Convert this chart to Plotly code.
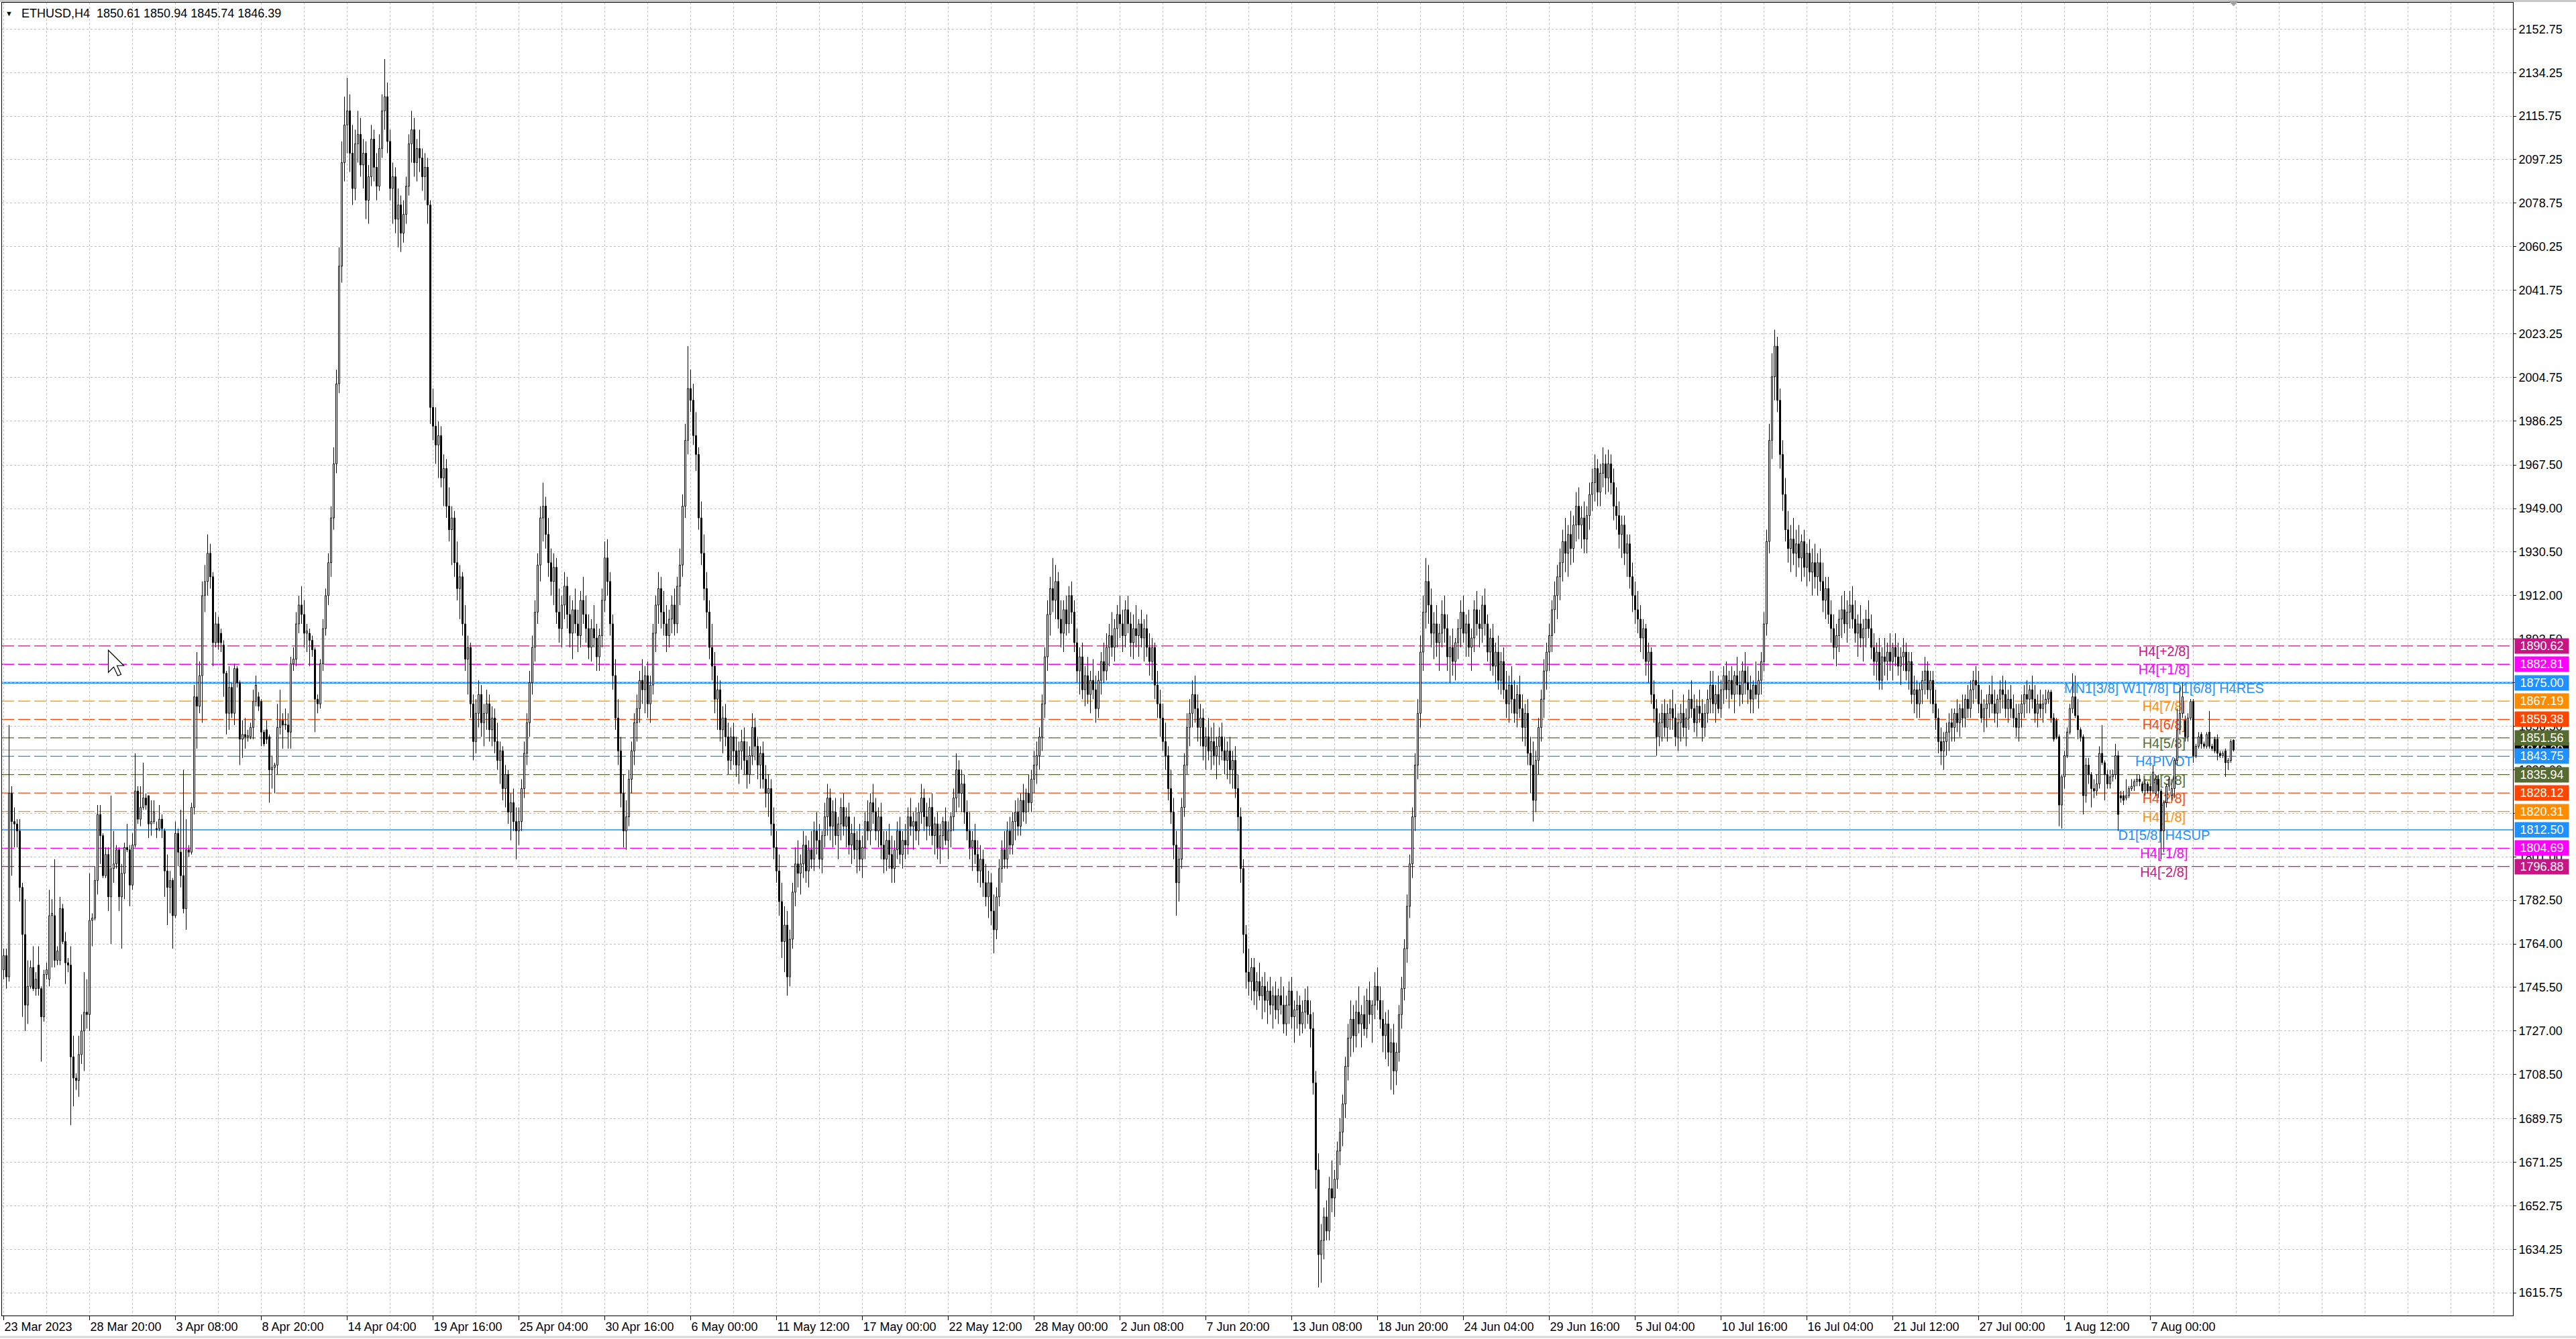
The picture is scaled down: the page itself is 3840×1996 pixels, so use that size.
import plotly.graph_objects as go

# ---------------- data ----------------
opens = [
1753,1759,1750,1828,1816,1815,1812,1788,1768,1738,1746,1754,1745,1755,1745,1733,
1751,1749,1776,1776,1757,1757,1779,1765,1756,1755,1716,1707,1706,1717,1727,1735,
1734,1774,1775,1791,1819,1810,1793,1802,1784,1796,1798,1804,1784,1794,1805,1804,
1789,1806,1829,1817,1822,1826,1827,1815,1816,1813,1813,1817,1812,1795,1788,1791,
1776,1811,1803,1793,1779,1804,1803,1822,1869,1865,1878,1912,1918,1930,1920,1892,
1900,1896,1891,1879,1862,1873,1862,1881,1875,1851,1853,1852,1852,1856,1867,1869,
1867,1854,1855,1852,1838,1839,1840,1856,1859,1857,1857,1854,1883,1885,1900,1908,
1904,1896,1896,1893,1889,1868,1866,1883,1898,1912,1926,1945,1968,2002,2052,2096,
2112,2118,2100,2085,2104,2108,2095,2100,2080,2090,2106,2094,2086,2102,2118,2124,
2105,2085,2090,2072,2078,2066,2074,2086,2104,2110,2096,2102,2098,2090,2094,2078,
1992,1984,1976,1980,1962,1966,1950,1940,1945,1926,1915,1920,1900,1885,1890,1866,
1850,1862,1870,1858,1862,1866,1855,1860,1850,1842,1846,1830,1836,1820,1824,1816,
1812,1816,1830,1845,1858,1875,1890,1905,1925,1945,1950,1938,1926,1918,1924,1905,
1898,1908,1916,1904,1896,1906,1900,1895,1910,1904,1898,1890,1898,1894,1886,1895,
1910,1928,1918,1900,1878,1860,1846,1828,1812,1818,1834,1846,1858,1864,1876,1872,
1878,1866,1874,1896,1908,1915,1905,1900,1895,1902,1908,1900,1916,1925,1950,1978,
2000,1995,1980,1972,1945,1930,1915,1905,1890,1882,1868,1872,1855,1860,1852,1842,
1852,1846,1840,1846,1850,1842,1836,1844,1856,1848,1840,1845,1834,1828,1830,1815,
1805,1795,1782,1765,1772,1750,1766,1786,1798,1794,1798,1806,1795,1804,1800,1812,
1808,1800,1810,1818,1826,1814,1820,1810,1815,1822,1814,1818,1806,1811,1804,1808,
1800,1805,1816,1812,1824,1820,1812,1818,1806,1800,1808,1802,1796,1804,1812,1802,
1808,1806,1818,1814,1816,1812,1820,1826,1818,1814,1822,1810,1815,1805,1810,1816,
1808,1812,1818,1826,1838,1828,1832,1820,1812,1805,1808,1802,1795,1800,1790,1784,
1790,1778,1770,1784,1796,1804,1800,1812,1806,1816,1820,1814,1825,1820,1828,1824,
1834,1840,1844,1852,1866,1886,1904,1915,1910,1918,1902,1896,1906,1900,1912,1905,
1892,1880,1886,1872,1878,1870,1876,1872,1864,1876,1884,1880,1890,1895,1890,1898,
1904,1900,1895,1906,1900,1892,1898,1895,1900,1894,1898,1890,1884,1890,1874,1866,
1860,1850,1844,1830,1820,1806,1790,1800,1822,1840,1856,1862,1870,1864,1856,1860,
1848,1852,1846,1850,1844,1848,1852,1846,1842,1846,1838,1842,1830,1818,1796,1768,
1752,1748,1754,1744,1748,1742,1746,1740,1744,1738,1742,1736,1742,1738,1730,1738,
1744,1733,1736,1738,1730,1735,1740,1734,1728,1705,1668,1632,1638,1648,1642,1660,
1656,1664,1676,1684,1696,1712,1724,1732,1725,1735,1730,1734,1728,1740,1734,1738,
1746,1740,1732,1725,1730,1718,1722,1710,1718,1734,1745,1762,1780,1798,1818,1840,
1862,1888,1905,1918,1908,1896,1900,1892,1896,1904,1898,1886,1890,1884,1892,1898,
1905,1896,1900,1890,1894,1906,1900,1898,1908,1900,1888,1894,1882,1888,1876,1884,
1872,1866,1874,1868,1862,1870,1864,1856,1862,1845,1840,1825,1842,1856,1868,1880,
1888,1895,1906,1912,1920,1926,1935,1930,1938,1932,1942,1950,1942,1945,1936,1946,
1955,1960,1966,1956,1964,1968,1962,1968,1960,1950,1946,1938,1942,1930,1934,1920,
1912,1906,1902,1894,1898,1884,1888,1870,1864,1852,1858,1862,1856,1862,1864,1860,
1852,1858,1862,1856,1860,1868,1864,1858,1865,1862,1856,1862,1868,1874,1866,1870,
1864,1872,1878,1872,1876,1870,1878,1874,1870,1880,1875,1872,1868,1874,1870,1876,
1884,1900,1935,1978,2005,2018,1995,1972,1955,1940,1932,1936,1930,1934,1928,1935,
1924,1930,1922,1926,1920,1926,1918,1910,1915,1904,1898,1890,1895,1902,1906,1900,
1905,1908,1902,1896,1900,1894,1898,1902,1898,1890,1884,1888,1876,1886,1884,1888,
1884,1890,1886,1882,1886,1888,1880,1884,1870,1872,1866,1872,1876,1880,1872,1876,
1866,1860,1850,1846,1850,1854,1858,1856,1862,1858,1864,1860,1868,1864,1872,1876,
1874,1866,1860,1864,1866,1870,1866,1862,1868,1872,1870,1864,1868,1864,1860,1856,
1862,1866,1870,1868,1872,1868,1862,1866,1864,1866,1868,1871,1860,1859,1852,1823,
1835,1844,1854,1864,1869,1861,1855,1852,1827,1840,1836,1830,1829,1832,1845,1841,
1836,1832,1835,1836,1844,1827,1827,1826,1827,1830,1831,1833,1834,1832,1829,1832,
1831,1829,1828,1834,1829,1812,1824,1831,1827,1830,1842,1855,1862,1859,1852,1860,
1867,1844,1848,1853,1849,1848,1854,1848,1851,1851,1845,1844,1846,1841,1842,1850.61,
]

highs = [
1762,1762,1857,1831,1822,1817,1817,1790,1783,1757,1757,1763,1752,1763,1746,1753,
1756,1787,1783,1800,1763,1784,1781,1769,1758,1763,1725,1709,1725,1734,1752,1749,
1794,1777,1797,1823,1823,1811,1805,1805,1827,1812,1806,1805,1798,1807,1815,1806,
1811,1845,1831,1831,1841,1828,1827,1825,1825,1816,1823,1819,1813,1802,1795,1792,
1816,1813,1821,1838,1817,1806,1824,1874,1888,1884,1918,1925,1938,1934,1922,1905,
1903,1898,1893,1880,1882,1875,1883,1882,1876,1859,1860,1855,1858,1872,1878,1871,
1868,1855,1859,1853,1844,1841,1866,1872,1862,1864,1862,1886,1890,1905,1912,1916,
1910,1900,1898,1895,1890,1870,1885,1902,1915,1930,1950,1975,2008,2060,2105,2124,
2132,2125,2112,2110,2118,2115,2106,2105,2095,2112,2110,2100,2108,2125,2140,2130,
2110,2096,2094,2085,2082,2080,2090,2108,2118,2115,2106,2110,2102,2100,2098,2080,
2000,1992,1986,1984,1972,1970,1958,1950,1948,1935,1925,1922,1908,1895,1892,1870,
1868,1876,1874,1866,1872,1870,1865,1864,1858,1850,1848,1840,1838,1828,1830,1822,
1822,1834,1850,1862,1880,1895,1910,1930,1950,1960,1954,1945,1932,1930,1928,1915,
1912,1922,1920,1912,1910,1915,1906,1914,1920,1912,1904,1902,1908,1900,1898,1915,
1935,1936,1922,1904,1885,1868,1852,1836,1825,1838,1850,1862,1870,1880,1885,1882,
1884,1878,1900,1912,1922,1920,1914,1908,1906,1912,1915,1920,1932,1955,1985,2018,
2008,2002,1990,1975,1952,1938,1922,1910,1900,1888,1878,1876,1865,1866,1858,1856,
1858,1852,1850,1855,1856,1850,1848,1862,1860,1852,1848,1850,1840,1836,1834,1822,
1812,1802,1790,1780,1778,1770,1790,1805,1808,1802,1812,1810,1808,1812,1816,1820,
1815,1812,1824,1832,1830,1825,1826,1818,1826,1828,1822,1824,1815,1818,1812,1815,
1810,1820,1825,1828,1832,1826,1822,1824,1812,1812,1815,1810,1808,1816,1818,1812,
1815,1822,1826,1820,1822,1824,1832,1830,1824,1826,1828,1818,1820,1815,1818,1822,
1816,1820,1830,1845,1842,1838,1836,1825,1820,1812,1815,1808,1806,1804,1798,1795,
1794,1785,1788,1800,1808,1812,1816,1818,1820,1825,1826,1828,1832,1830,1836,1838,
1846,1850,1856,1870,1890,1910,1920,1928,1925,1922,1910,1910,1912,1916,1918,1910,
1898,1890,1892,1882,1886,1880,1885,1878,1880,1888,1892,1896,1900,1905,1902,1908,
1912,1906,1910,1912,1905,1904,1908,1902,1906,1902,1904,1896,1894,1892,1880,1872,
1866,1858,1848,1838,1826,1812,1805,1826,1845,1862,1868,1876,1878,1870,1866,1864,
1856,1860,1856,1858,1852,1856,1858,1852,1850,1852,1846,1848,1836,1822,1800,1772,
1762,1758,1758,1752,1756,1750,1752,1748,1750,1746,1748,1745,1750,1746,1742,1748,
1750,1740,1744,1742,1740,1745,1746,1740,1735,1710,1675,1645,1652,1655,1665,1672,
1668,1680,1690,1700,1716,1730,1740,1738,1740,1746,1738,1742,1745,1748,1740,1752,
1754,1746,1740,1735,1736,1728,1730,1722,1738,1750,1766,1785,1802,1822,1845,1868,
1895,1912,1928,1925,1915,1905,1908,1900,1910,1912,1904,1895,1898,1894,1902,1910,
1912,1904,1906,1898,1910,1914,1906,1912,1915,1904,1898,1900,1892,1895,1888,1890,
1880,1878,1882,1876,1874,1878,1870,1866,1868,1852,1850,1846,1860,1872,1885,1892,
1900,1910,1918,1925,1932,1940,1945,1942,1948,1946,1956,1958,1950,1952,1950,1960,
1966,1972,1970,1968,1975,1972,1974,1972,1966,1958,1952,1946,1946,1938,1938,1926,
1918,1914,1908,1902,1900,1892,1890,1876,1868,1862,1866,1868,1866,1868,1872,1866,
1862,1866,1870,1864,1872,1876,1870,1868,1872,1868,1866,1872,1880,1880,1874,1878,
1876,1882,1884,1880,1882,1880,1886,1880,1884,1888,1882,1878,1876,1884,1880,1888,
1905,1940,1985,2015,2025,2022,2000,1978,1962,1948,1942,1945,1940,1942,1938,1940,
1934,1936,1932,1934,1930,1932,1926,1920,1920,1910,1904,1900,1906,1912,1914,1910,
1914,1916,1910,1904,1908,1902,1906,1910,1904,1896,1892,1894,1890,1894,1892,1896,
1892,1896,1892,1890,1894,1892,1888,1888,1878,1876,1875,1880,1886,1884,1880,1880,
1872,1864,1856,1854,1858,1862,1864,1864,1868,1866,1870,1870,1874,1876,1880,1882,
1880,1872,1868,1870,1874,1878,1872,1870,1876,1878,1876,1872,1874,1870,1866,1866,
1870,1874,1876,1874,1878,1874,1870,1872,1870,1872,1872,1872,1862,1860,1853,1836,
1846,1856,1866,1879,1878,1868,1856,1853,1843,1843,1837,1834,1836,1848,1857,1842,
1838,1838,1838,1849,1846,1829,1829,1834,1831,1834,1834,1836,1836,1833,1834,1833,
1832,1840,1836,1836,1830,1825,1832,1835,1834,1843,1864,1873,1875,1861,1862,1868,
1868,1849,1854,1854,1850,1854,1863,1849,1852,1853,1846,1846,1847,1843,1851,1850.94,
]

lows = [
1749,1745,1748,1793,1805,1805,1782,1733,1727,1730,1745,1744,1742,1742,1714,1731,
1749,1746,1754,1754,1755,1755,1764,1747,1752,1687,1695,1702,1699,1713,1710,1728,
1727,1763,1774,1785,1798,1792,1792,1778,1764,1790,1796,1778,1762,1783,1803,1780,
1787,1805,1815,1814,1821,1821,1809,1810,1815,1809,1812,1809,1784,1772,1777,1762,
1775,1797,1788,1777,1770,1801,1802,1819,1847,1862,1858,1905,1912,1915,1882,1890,
1889,1888,1869,1853,1855,1860,1857,1873,1840,1843,1847,1850,1851,1851,1865,1863,
1848,1848,1849,1824,1830,1828,1836,1853,1847,1855,1847,1847,1880,1882,1896,1900,
1890,1888,1882,1886,1854,1862,1864,1880,1895,1908,1920,1940,1964,1998,2045,2088,
2100,2092,2078,2080,2096,2090,2085,2072,2070,2086,2088,2080,2084,2098,2110,2100,
2080,2070,2066,2060,2058,2062,2070,2082,2096,2090,2088,2092,2084,2080,2070,1985,
1978,1968,1962,1958,1950,1945,1935,1925,1920,1910,1902,1895,1880,1870,1860,1842,
1845,1856,1852,1848,1855,1850,1848,1845,1838,1832,1825,1822,1815,1808,1812,1800,
1806,1812,1826,1840,1852,1870,1884,1900,1918,1935,1932,1920,1912,1908,1900,1892,
1890,1902,1898,1890,1885,1896,1888,1890,1900,1892,1885,1884,1890,1880,1880,1890,
1905,1912,1895,1872,1855,1840,1822,1805,1804,1814,1828,1840,1850,1858,1866,1862,
1860,1858,1870,1888,1900,1898,1895,1888,1890,1896,1895,1896,1908,1920,1945,1972,
1990,1976,1965,1940,1925,1910,1898,1885,1876,1862,1855,1850,1845,1848,1836,1838,
1840,1835,1832,1838,1836,1830,1832,1840,1842,1834,1830,1830,1822,1818,1810,1800,
1790,1776,1758,1752,1742,1746,1762,1780,1788,1785,1792,1790,1788,1796,1795,1802,
1796,1794,1805,1810,1808,1805,1806,1800,1808,1810,1805,1802,1798,1800,1794,1795,
1792,1800,1808,1806,1815,1808,1805,1800,1794,1795,1796,1790,1790,1800,1798,1796,
1800,1802,1810,1804,1808,1806,1815,1812,1808,1810,1806,1802,1800,1798,1804,1806,
1800,1805,1812,1820,1822,1820,1815,1808,1800,1795,1798,1790,1788,1784,1780,1775,
1772,1760,1766,1780,1790,1796,1796,1802,1802,1808,1810,1810,1816,1815,1820,1820,
1828,1832,1838,1846,1860,1880,1895,1905,1902,1898,1890,1888,1895,1896,1900,1888,
1875,1870,1868,1865,1866,1862,1868,1858,1860,1870,1875,1876,1882,1886,1884,1890,
1894,1888,1890,1896,1886,1885,1890,1886,1890,1884,1886,1878,1876,1868,1860,1852,
1846,1838,1825,1815,1800,1776,1782,1796,1818,1836,1848,1856,1858,1850,1848,1842,
1838,1842,1838,1840,1834,1840,1842,1836,1834,1832,1830,1826,1812,1790,1760,1745,
1742,1740,1738,1736,1740,1732,1735,1730,1734,1728,1732,1730,1734,1726,1725,1730,
1728,1722,1728,1725,1726,1728,1730,1720,1700,1660,1618,1620,1630,1638,1638,1650,
1648,1660,1670,1678,1690,1706,1716,1718,1720,1726,1720,1725,1724,1730,1722,1732,
1736,1728,1718,1715,1712,1702,1700,1704,1714,1728,1740,1756,1775,1792,1812,1834,
1856,1880,1898,1900,1890,1885,1886,1880,1890,1892,1880,1875,1878,1876,1885,1890,
1892,1886,1886,1880,1888,1895,1890,1892,1895,1884,1880,1878,1875,1872,1870,1868,
1860,1858,1862,1858,1856,1860,1850,1848,1840,1828,1816,1820,1836,1850,1860,1872,
1880,1888,1896,1902,1910,1918,1922,1920,1925,1926,1935,1936,1932,1930,1930,1940,
1948,1952,1950,1950,1958,1955,1956,1955,1944,1940,1932,1928,1925,1920,1915,1905,
1900,1896,1888,1885,1878,1875,1866,1858,1844,1848,1850,1852,1850,1855,1855,1848,
1846,1850,1852,1848,1855,1860,1854,1852,1858,1850,1852,1858,1862,1862,1858,1862,
1860,1866,1868,1864,1868,1862,1870,1865,1866,1870,1866,1862,1862,1868,1864,1870,
1880,1895,1930,1970,1995,1990,1966,1948,1935,1926,1922,1925,1920,1924,1918,1920,
1916,1918,1912,1915,1912,1914,1905,1902,1900,1892,1885,1882,1888,1894,1896,1892,
1898,1898,1892,1886,1890,1884,1890,1894,1885,1878,1876,1872,1872,1878,1876,1880,
1876,1882,1878,1874,1880,1876,1872,1866,1862,1860,1860,1866,1870,1868,1866,1862,
1855,1845,1840,1838,1844,1846,1850,1850,1854,1852,1856,1856,1860,1860,1866,1868,
1862,1858,1854,1856,1860,1862,1858,1856,1862,1864,1860,1858,1860,1856,1852,1850,
1856,1860,1862,1862,1864,1858,1856,1860,1858,1862,1866,1858,1850,1851,1814,1813,
1830,1843,1853,1862,1860,1851,1850,1819,1824,1832,1822,1826,1827,1830,1840,1825,
1830,1830,1833,1834,1812,1824,1823,1825,1826,1829,1829,1831,1831,1828,1827,1828,
1827,1828,1827,1826,1800,1803,1822,1829,1825,1826,1840,1853,1860,1850,1850,1859,
1841,1843,1847,1847,1847,1847,1847,1846,1845,1842,1843,1843,1835,1838,1841,1845.74,
]

closes = [
1759,1750,1828,1816,1815,1812,1788,1768,1738,1746,1754,1745,1749,1745,1733,1751,
1753,1776,1777,1757,1761,1779,1765,1756,1755,1716,1707,1706,1717,1727,1735,1734,
1774,1775,1791,1819,1810,1793,1802,1784,1796,1798,1804,1784,1794,1805,1804,1789,
1806,1829,1817,1822,1826,1823,1815,1816,1820,1812.6,1817,1813,1795,1788,1791,1776,
1811,1803,1793,1779,1804,1803,1822,1869,1865,1878,1912,1918,1930,1920,1892,1900,
1892,1892,1879,1862,1873,1862,1881,1875,1851,1853,1852,1852.5,1856,1867,1874,1865,
1854,1849,1851,1838,1839,1840,1856,1859,1857,1857.4,1854,1883,1885,1900,1908,1904,
1896,1897,1893,1889,1868,1866,1883,1898,1912,1926,1945,1968,2002,2052,2096,2112,
2118,2100,2085,2104,2108,2095,2100,2080,2090,2106,2094,2086,2102,2118,2124,2105,
2085,2090,2072,2078,2066,2074,2086,2104,2110,2096,2102,2098,2090,2094,2078,1992,
1984,1976,1980,1962,1966,1950,1940,1945,1926,1915,1920,1900,1885,1890,1866,1850,
1862,1870,1858,1862,1866,1855,1860,1850,1842,1846,1830,1836,1820,1824,1816,1812,
1816,1830,1845,1858,1875,1890,1905,1925,1945,1950,1938,1926,1918,1924,1905,1898,
1908,1916,1904,1896,1906,1900,1895,1910,1904,1898,1890,1898,1894,1886,1895,1910,
1928,1918,1900,1878,1860,1846,1828,1812,1818,1834,1846,1858,1864,1876,1872,1878,
1866,1874,1896,1908,1915,1905,1900,1895,1902,1908,1900,1916,1925,1950,1978,2000,
1995,1980,1972,1945,1930,1915,1905,1890,1882,1868,1872,1855,1860,1852,1842,1852,
1846,1840,1846,1850,1842,1836,1844,1856,1848,1840,1845,1834,1828,1830,1815,1805,
1795,1782,1765,1772,1750,1766,1786,1798,1794,1798,1806,1795,1804,1800,1812,1808,
1800,1810,1818,1826,1814,1820,1810,1815,1822,1814,1818,1806,1811,1804,1808,1800,
1805,1816,1812,1824,1820,1812,1818,1806,1800,1808,1802,1796,1804,1812,1802,1808,
1806,1818,1814,1816,1812,1820,1826,1818,1814,1822,1810,1815,1805,1810,1816,1808,
1812,1818,1826,1838,1828,1832,1820,1812,1805,1808,1802,1795,1800,1790,1784,1790,
1778,1770,1784,1796,1804,1800,1812,1806,1816,1820,1814,1825,1820,1828,1824,1834,
1840,1844,1852,1866,1886,1904,1915,1910,1918,1902,1896,1906,1900,1912,1905,1892,
1880,1886,1872,1878,1870,1876,1872,1864,1876,1884,1880,1890,1895,1890,1898,1904,
1900,1895,1906,1900,1892,1898,1895,1900,1894,1898,1890,1884,1890,1874,1866,1860,
1850,1844,1830,1820,1806,1790,1800,1822,1840,1856,1862,1870,1864,1856,1860,1848,
1852,1846,1850,1844,1848,1852,1846,1842,1846,1838,1842,1830,1818,1796,1768,1752,
1748,1754,1744,1748,1742,1746,1740,1744,1738,1742,1736,1742,1738,1730,1738,1744,
1733,1736,1738,1730,1735,1740,1734,1728,1705,1668,1632,1638,1648,1642,1660,1656,
1664,1676,1684,1696,1712,1724,1732,1725,1735,1730,1734,1728,1740,1734,1738,1746,
1740,1732,1725,1730,1718,1722,1710,1718,1734,1745,1762,1780,1798,1818,1840,1862,
1888,1905,1918,1908,1896,1900,1892,1896,1904,1898,1886,1890,1884,1892,1898,1905,
1896,1900,1890,1894,1906,1900,1898,1908,1900,1888,1894,1882,1888,1876,1884,1872,
1866,1874,1868,1862,1870,1864,1856,1862,1845,1840,1825,1842,1856,1868,1880,1888,
1895,1906,1912,1920,1926,1935,1930,1938,1932,1942,1950,1942,1945,1936,1946,1955,
1960,1966,1956,1964,1968,1962,1968,1960,1950,1946,1938,1942,1930,1934,1920,1912,
1906,1902,1894,1898,1884,1888,1870,1864,1852,1858,1862,1856,1862,1864,1860,1852,
1858,1862,1856,1860,1868,1864,1858,1865,1862,1856,1862,1868,1874,1866,1870,1864,
1872,1878,1872,1876,1870,1878,1874,1870,1880,1875,1872,1868,1874,1870,1876,1884,
1900,1935,1978,2005,2018,1995,1972,1955,1940,1932,1936,1930,1934,1928,1935,1924,
1930,1922,1926,1920,1926,1918,1910,1915,1904,1898,1890,1895,1902,1906,1900,1905,
1908,1902,1896,1900,1894,1898,1902,1898,1890,1884,1888,1876,1886,1884,1888,1884,
1890,1886,1882,1886,1888,1880,1884,1870,1872,1866,1872,1876,1880,1872,1876,1866,
1860,1850,1846,1850,1854,1858,1856,1862,1858,1864,1860,1868,1864,1872,1876,1874,
1866,1860,1864,1866,1870,1866,1862,1868,1872,1870,1864,1868,1864,1860,1856,1862,
1866,1870,1868,1872,1868,1862,1866,1864,1866,1868,1871,1860,1851,1852,1823,1835,
1844,1854,1864,1869,1861,1855,1852,1827,1840,1836,1830,1829,1832,1845,1841,1836,
1832,1835,1836,1844,1819,1826,1825,1827,1830,1831,1833,1834,1833,1829,1832,1829,
1829,1837,1834,1829,1812,1824,1831,1834,1830,1842,1855,1862,1869,1852,1860,1867,
1844,1848,1852,1849,1848,1853,1848,1847,1846,1845,1844,1845,1841,1842,1850,1846.39,
]

x_labels = ["23 Mar 2023", "28 Mar 20:00", "3 Apr 08:00", "8 Apr 20:00", "14 Apr 04:00",
            "19 Apr 16:00", "25 Apr 04:00", "30 Apr 16:00", "6 May 00:00", "11 May 12:00",
            "17 May 00:00", "22 May 12:00", "28 May 00:00", "2 Jun 08:00", "7 Jun 20:00",
            "13 Jun 08:00", "18 Jun 20:00", "24 Jun 04:00", "29 Jun 16:00", "5 Jul 04:00",
            "10 Jul 16:00", "16 Jul 04:00", "21 Jul 12:00", "27 Jul 00:00", "1 Aug 12:00",
            "7 Aug 00:00"]

y_labels = ["2152.75", "2134.25", "2115.75", "2097.25", "2078.75", "2060.25", "2041.75",
            "2023.25", "2004.75", "1986.25", "1967.50", "1949.00", "1930.50", "1912.00",
            "1893.50", "1875.00", "1856.50", "1838.00", "1819.50", "1801.00", "1782.50",
            "1764.00", "1745.50", "1727.00", "1708.50", "1689.75", "1671.25", "1652.75",
            "1634.25", "1615.75"]

level_prices = [1890.62, 1882.81, 1875.00, 1867.19, 1859.38, 1851.56, 1843.75,
                1835.94, 1828.12, 1820.31, 1812.50, 1804.69, 1796.88]
level_names = ["H4[+2/8]", "H4[+1/8]", "MN1[3/8] W1[7/8] D1[6/8] H4RES", "H4[7/8]",
               "H4[6/8]", "H4[5/8]", "H4PIVOT", "H4[3/8]", "H4[2/8]", "H4[1/8]",
               "D1[5/8] H4SUP", "H4[-1/8]", "H4[-2/8]"]

current_price = 1846.39
header_text = "ETHUSD,H4\u00a0\u00a01850.61 1850.94 1845.74 1846.39"

# ---------------- styles ----------------
level_colors = ["#C71585", "#FF00FF", "#1E90FF", "#FF8C00", "#FF4500", "#556B2F", "#1E90FF",
                "#556B2F", "#FF4500", "#FF8C00", "#1E90FF", "#FF00FF", "#C71585"]
level_dash = ["18px,6px", "18px,6px", "solid", "18px,6px", "18px,6px", "18px,6px", "18px,6px",
              "18px,6px", "18px,6px", "18px,6px", "solid", "18px,6px", "18px,6px"]
level_width = [1.3, 1.3, 2.5, 1.3, 1.3, 1.3, 1.3, 1.3, 1.3, 1.3, 1.5, 1.3, 1.3]

n = len(closes)
if not (len(opens) == len(highs) == len(lows) == n):
    raise SystemExit(f"length mismatch {len(opens)} {len(highs)} {len(lows)} {n}")

FONT = "Liberation Sans, Arial, Helvetica, sans-serif"
GRID = "#C0C0C0"
BODY_HALF = 0.25          # half body width in bar units (bar spacing = 4 px)
LABEL_X = 805.1

bars = list(range(n))

# wick segments and candle bodies, built from the OHLC lists
wick_x, wick_y = [], []
for i in bars:
    wick_x += [i, i, None]
    wick_y += [lows[i], highs[i], None]

up_x, up_y, dn_x, dn_y = [], [], [], []
for i in bars:
    o, c = opens[i], closes[i]
    xs = [i - BODY_HALF, i + BODY_HALF, i + BODY_HALF, i - BODY_HALF, i - BODY_HALF, None]
    ys = [o, o, c, c, o, None]
    if c >= o:
        up_x += xs; up_y += ys
    else:
        dn_x += xs; dn_y += ys

fig = go.Figure()

# level names (under the candles)
fig.add_trace(go.Scatter(
    x=[LABEL_X] * len(level_prices), y=level_prices, mode="text",
    text=level_names, textposition="bottom center",
    textfont=dict(family=FONT, size=20, color=level_colors),
    showlegend=False, hoverinfo="skip"))

fig.add_trace(go.Scatter(x=wick_x, y=wick_y, mode="lines",
                         line=dict(color="black", width=1),
                         showlegend=False, hoverinfo="skip"))
fig.add_trace(go.Scatter(x=up_x, y=up_y, mode="lines", fill="toself", fillcolor="white",
                         line=dict(color="black", width=1),
                         showlegend=False, hoverinfo="skip"))
fig.add_trace(go.Scatter(x=dn_x, y=dn_y, mode="lines", fill="toself", fillcolor="black",
                         line=dict(color="black", width=1),
                         showlegend=False, hoverinfo="skip"))

shapes = []
for p, c, d, w in zip(level_prices, level_colors, level_dash, level_width):
    shapes.append(dict(type="line", xref="paper", x0=0, x1=1, yref="y", y0=p, y1=p,
                       line=dict(color=c, width=w, dash=d), layer="between"))
shapes.append(dict(type="line", xref="paper", x0=0, x1=1, yref="y", y0=current_price,
                   y1=current_price, line=dict(color="#C0C0C0", width=1.5), layer="between"))

# thin window frame lines at the very top and bottom of the picture
shapes.append(dict(type="line", xref="paper", x0=-0.001, x1=1.026, yref="paper",
                   y0=1.0013, y1=1.0013, line=dict(color="#C8C8C8", width=3), layer="above"))
shapes.append(dict(type="line", xref="paper", x0=-0.001, x1=1.026, yref="paper",
                   y0=-0.0163, y1=-0.0163, line=dict(color="#D8D8D8", width=3), layer="above"))

# mouse cursor left on the chart
shapes.append(dict(type="path", xref="x", yref="y", xsizemode="pixel", ysizemode="pixel",
                   xanchor=39, yanchor=1888.8,
                   path="M0,0 L0,-33 L8,-25 L14,-38 L19,-36 L13,-23 L23,-23 Z",
                   fillcolor="white", line=dict(color="black", width=1.2), layer="above"))
# chart-shift marker at the top edge
shapes.append(dict(type="path", xref="x", yref="paper", xsizemode="pixel", ysizemode="pixel",
                   xanchor=831, yanchor=1,
                   path="M-6,2 L6,2 L0,-5 Z", fillcolor="#A0A0A0",
                   line=dict(color="#A0A0A0", width=1), layer="above"))

annotations = []
annotations.append(dict(xref="paper", yref="paper", x=0, y=1, xanchor="left", yanchor="top",
                        xshift=3, yshift=-8, text="\u25BC", showarrow=False,
                        font=dict(family=FONT, size=11, color="black")))
annotations.append(dict(xref="paper", yref="paper", x=0, y=1, xanchor="left", yanchor="top",
                        xshift=27, yshift=-4, text=header_text, showarrow=False,
                        font=dict(family=FONT, size=18, color="black")))
annotations.append(dict(xref="paper", x=1, xanchor="left", xshift=2, yref="y", y=current_price,
                        text=f"{current_price:.2f}", showarrow=False, bgcolor="black",
                        width=80, height=22, borderpad=0, align="center",
                        font=dict(family=FONT, size=18, color="white")))
for p, c in zip(level_prices, level_colors):
    annotations.append(dict(xref="paper", x=1, xanchor="left", xshift=2, yref="y", y=p,
                            text=f"{p:.2f}", showarrow=False, bgcolor=c,
                            width=80, height=22, borderpad=0, align="center",
                            font=dict(family=FONT, size=18, color="white")))

fig.update_layout(
    width=3840, height=1996,
    margin=dict(l=3, r=94, t=4, b=35, autoexpand=False),
    paper_bgcolor="white", plot_bgcolor="white",
    showlegend=False, hovermode=False,
    shapes=shapes, annotations=annotations,
    font=dict(family=FONT, size=18, color="black"),
    xaxis=dict(
        range=[-0.625, 935.125],
        tickmode="array", tickvals=[32 * k for k in range(len(x_labels))], ticktext=x_labels,
        ticks="outside", ticklen=6, tickcolor="black", tickwidth=1,
        ticklabelposition="outside right",
        tickfont=dict(family=FONT, size=18, color="black"),
        showgrid=True, gridcolor=GRID, griddash="3px,3px", gridwidth=1,
        minor=dict(dtick=16, tick0=0, showgrid=True, gridcolor=GRID, griddash="3px,3px",
                   gridwidth=1, ticks=""),
        showline=True, linecolor="black", linewidth=1, mirror=True, zeroline=False),
    yaxis=dict(
        side="right", range=[1606.1, 2163.95],
        tickmode="array", tickvals=[float(t) for t in y_labels], ticktext=y_labels,
        ticks="outside", ticklen=4, tickcolor="black",
        tickfont=dict(family=FONT, size=18, color="black"),
        showgrid=True, gridcolor=GRID, griddash="3px,3px", gridwidth=1,
        showline=True, linecolor="black", linewidth=1, mirror=True, zeroline=False),
)

fig.write_html("out.html",
               config={"displayModeBar": False, "staticPlot": True},
               post_script="document.body.style.margin='0px';document.body.style.overflow='hidden';")
